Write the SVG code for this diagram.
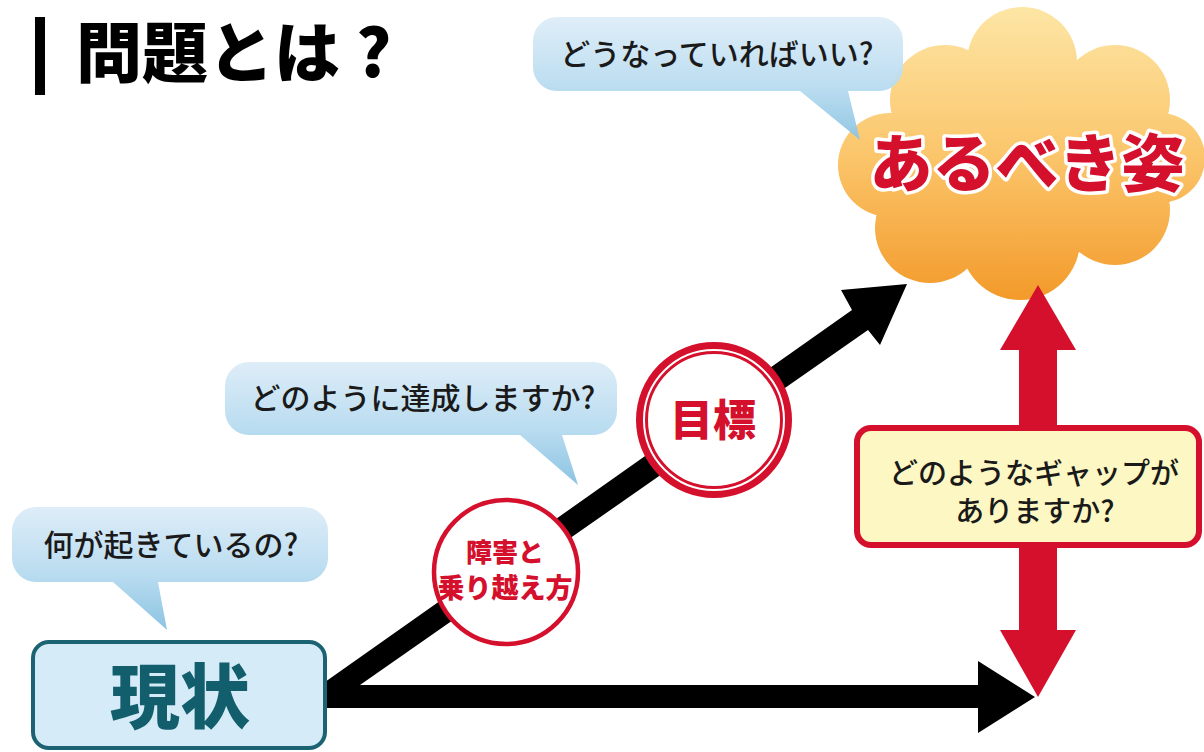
<svg xmlns="http://www.w3.org/2000/svg" width="1204" height="752" viewBox="0 0 1204 752">
<defs>
<linearGradient id="bubbleGrad" x1="0" y1="0" x2="0" y2="1">
<stop offset="0" stop-color="#deedf8"/>
<stop offset="0.55" stop-color="#b9dcf0"/>
<stop offset="1" stop-color="#8cc4e2"/>
</linearGradient>
<linearGradient id="cloudGrad" gradientUnits="userSpaceOnUse" x1="0" y1="5" x2="0" y2="300">
<stop offset="0" stop-color="#fde6a6"/>
<stop offset="0.5" stop-color="#fbc66c"/>
<stop offset="1" stop-color="#f39a2a"/>
</linearGradient>
<style>
.jp{font-family:'Noto Sans CJK JP','Noto Sans CJK SC',sans-serif;}
.q{font-size:30px;font-weight:500;fill:#1a1a1a;text-anchor:middle;}
.red{fill:#d5102d;}
.bubble{fill:url(#bubbleGrad);}
</style>
</defs>

<g id="title">
<rect x="35" y="17" width="10" height="78" fill="#000"/>
<text class="jp" x="76" y="77" font-size="66" font-weight="900" fill="#000">問題とは<tspan x="356">?</tspan></text>
</g>

<g id="cloud-node">
<g fill="url(#cloudGrad)">
<ellipse cx="1025" cy="160" rx="140" ry="100"/>
<circle cx="1022" cy="62" r="55"/>
<circle cx="945" cy="100" r="55"/>
<circle cx="1115" cy="100" r="55"/>
<circle cx="1160" cy="158" r="45"/>
<circle cx="890" cy="165" r="52"/>
<circle cx="930" cy="228" r="55"/>
<circle cx="1020" cy="240" r="60"/>
<circle cx="1115" cy="210" r="55"/>
</g>
<text class="jp" x="1027" y="186" font-size="63" font-weight="900" fill="#d5102d" stroke="#fff" stroke-width="7" stroke-linejoin="round" paint-order="stroke" text-anchor="middle">あるべき姿</text>
</g>

<g id="connectors">
<path d="M325,682 L852,310 L841,290 L907,284 L880,345 L868,330 L360,685 L978,685 L978,661 L1035,697 L978,733 L978,708 L325,708 Z" fill="#000"/>
<path d="M1038,285 L1076,350 L1057,350 L1057,630 L1076,630 L1038,697 L1000,630 L1019,630 L1019,350 L1000,350 Z" fill="#d5102d"/>
</g>

<g id="bubble-top">
<path class="bubble" opacity="0.95" d="M557,17 H879 A24,24 0 0 1 903,41 V67 A24,24 0 0 1 879,91 H848 L860,140 L800,91 H557 A24,24 0 0 1 533,67 V41 A24,24 0 0 1 557,17 Z"/>
<text class="jp q" x="717" y="65">どうなっていればいい?</text>
</g>

<g id="bubble-mid">
<path class="bubble" d="M249,362 H593 A24,24 0 0 1 617,386 V411 A24,24 0 0 1 593,435 H562 L578,485 L520,435 H249 A24,24 0 0 1 225,411 V386 A24,24 0 0 1 249,362 Z"/>
<text class="jp q" x="423" y="409">どのように達成しますか?</text>
</g>

<g id="bubble-left">
<path class="bubble" d="M36,507 H304 A24,24 0 0 1 328,531 V558 A24,24 0 0 1 304,582 H158 L167,630 L113,582 H36 A24,24 0 0 1 12,558 V531 A24,24 0 0 1 36,507 Z"/>
<text class="jp q" x="171" y="556">何が起きているの?</text>
</g>

<g id="node-current">
<rect x="33" y="642" width="292" height="106" rx="16" fill="#d5ebf8" stroke="#1b6372" stroke-width="4"/>
<text class="jp" x="180" y="723" font-size="70" font-weight="900" fill="#135e6c" text-anchor="middle">現状</text>
</g>

<g id="node-obstacle">
<circle cx="506" cy="572" r="72" fill="#fff" stroke="#d5102d" stroke-width="4.5"/>
<text class="jp red" x="505" y="562" font-size="26" font-weight="900" text-anchor="middle">障害と</text>
<text class="jp red" x="505" y="598" font-size="27" font-weight="900" text-anchor="middle">乗り越え方</text>
</g>

<g id="node-goal">
<circle cx="714" cy="420" r="74.5" fill="#fff" stroke="#d5102d" stroke-width="7"/>
<circle cx="714" cy="420" r="67.5" fill="none" stroke="#d5102d" stroke-width="3"/>
<text class="jp red" x="713" y="436" font-size="43" font-weight="900" text-anchor="middle">目標</text>
</g>

<g id="node-gap">
<rect x="857" y="428" width="342" height="117" rx="14" fill="#fdf7c3" stroke="#d5102d" stroke-width="6"/>
<text class="jp" x="1034" y="484" font-size="29" font-weight="500" fill="#1a1a1a" text-anchor="middle">どのようなギャップが</text>
<text class="jp" x="1035" y="522" font-size="29" font-weight="500" fill="#1a1a1a" text-anchor="middle">ありますか?</text>
</g>
</svg>
